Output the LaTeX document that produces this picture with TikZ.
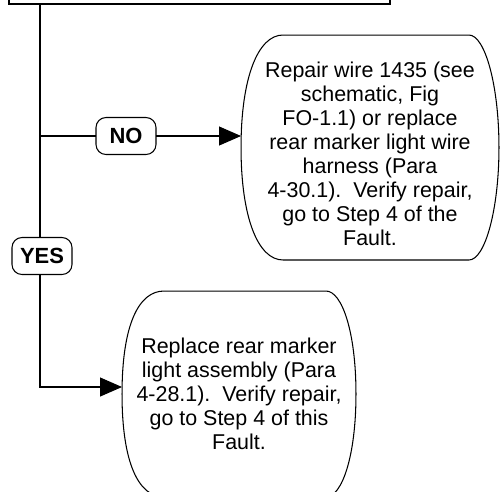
\documentclass[tikz,border=0pt]{standalone}
\usepackage{fontspec}
\setmainfont{Liberation Sans}
\usetikzlibrary{arrows.meta,calc}

\newcommand{\bulgeoutline}[1]{%
  \draw[bulgeline] ($(#1.north west)+(42,0)$) -- ($(#1.north east)+(-30,0)$)
    .. controls +(16,0) and +(0,62) .. (#1.east)
    .. controls +(0,-62) and +(16,0) .. ($(#1.south east)+(-30,0)$)
    -- ($(#1.south west)+(42,0)$)
    .. controls +(-25,0) and +(0,-70) .. (#1.west)
    .. controls +(0,70) and +(-25,0) .. ($(#1.north west)+(42,0)$) -- cycle;}

\begin{document}
\begin{tikzpicture}[
    x=0.02cm, y=0.02cm,
    font=\fontsize{12.2}{13.66}\selectfont,
    >={Triangle[length=0.44cm,width=0.38cm]},
    bulgeline/.style={draw=black, line width=0.6pt},
    stepnode/.style={
        rectangle,
        align=center,
        inner sep=0pt,
        outer sep=0pt
    },
    answer/.style={
        rectangle,
        rounded corners=0.2cm,
        draw=black,
        fill=white,
        line width=0.6pt,
        font=\fontsize{12.5}{14}\selectfont\bfseries,
        minimum width=1.2cm,
        minimum height=0.74cm,
        inner xsep=0.1cm,
        outer sep=0pt
    },
    prevbox/.style={
        rectangle,
        draw=black,
        line width=0.8pt,
        minimum width=7.62cm,
        minimum height=1cm,
        outer sep=0pt
    },
    flow/.style={line width=0.6pt},
    flowarrow/.style={->, line width=0.6pt}
]
\useasboundingbox (0,0) rectangle (500,-491);
\clip (0,0) rectangle (500,-491);

\node[prevbox, anchor=south west] (prev) at (9,-4) {};

\node[answer] (nobox) at (126,-136) {NO};
\node[answer] (yesbox) at (42,-256) {YES};

\node[stepnode, minimum width=5.16cm, minimum height=4.5cm] (repwire) at (370,-147.5)
    {\rule{0pt}{15.5pt}Repair wire 1435 (see\\schematic, Fig\\FO-1.1) or replace\\rear marker light wire\\harness (Para\\4-30.1).\ \ Verify repair,\\go to Step 4 of the\\Fault.};
\node[stepnode, minimum width=4.68cm, minimum height=4.12cm] (replace) at (239,-394)
    {Replace rear marker\\light assembly (Para\\4-28.1).\ \ Verify repair,\\go to Step 4 of this\\Fault.};
\bulgeoutline{repwire}
\bulgeoutline{replace}

\coordinate (yesturn) at (40,-387);
\draw[flow] (prev.south -| yesturn) -- (yesbox.north -| yesturn);
\draw[flow] (nobox.west -| yesturn) -- (nobox.west);
\draw[flowarrow] (nobox.east) -- (repwire.west |- nobox);
\draw[flowarrow] (yesbox.south -| yesturn) |- (replace.west |- yesturn);

\end{tikzpicture}
\end{document}
